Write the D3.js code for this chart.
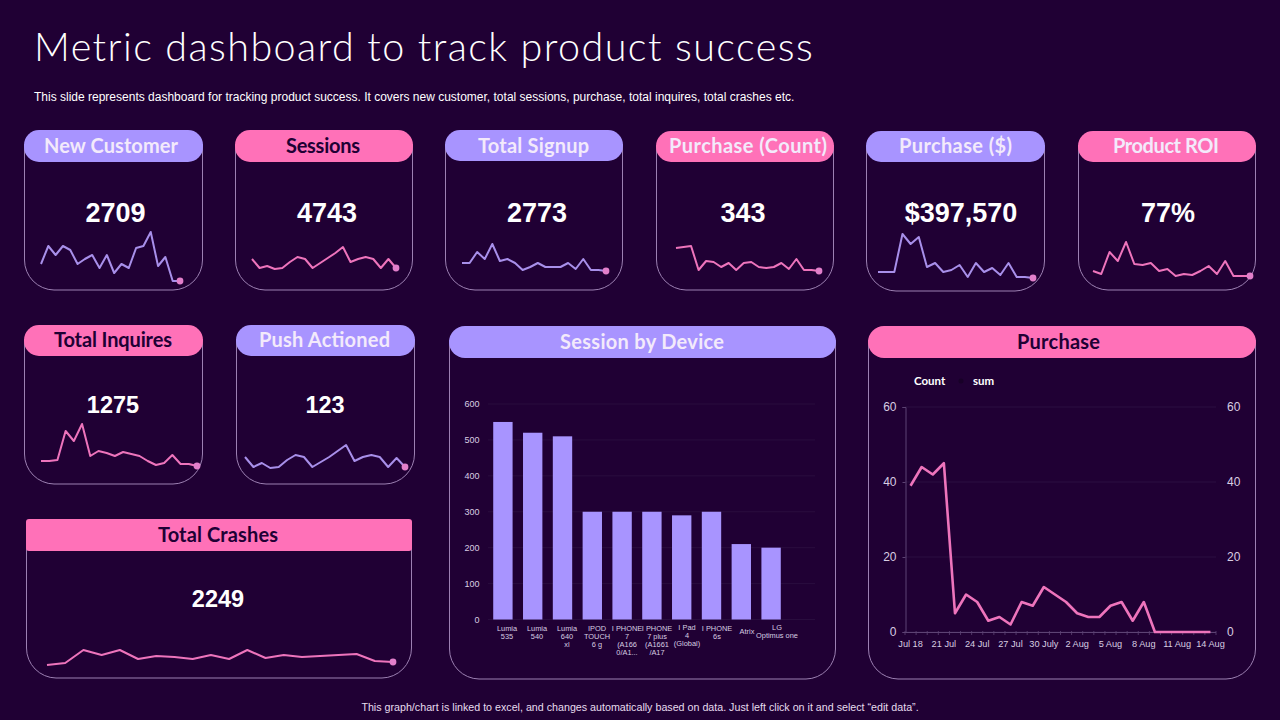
<!DOCTYPE html>
<html>
<head>
<meta charset="utf-8">
<script src="https://cdn.jsdelivr.net/npm/d3@7"></script>
<style>
  html, body { margin: 0; padding: 0; background: #200034; }
  svg { display: block; }
  text { font-family: "Liberation Sans", Arial, sans-serif; }
  .head { font-family: Lato, sans-serif; font-weight: 700; }
</style>
</head>
<body>
<div id="chart"></div>
<script>
// values
var newCustomer = [26,44,35,44,40,26,31,35,22,35,17,26,22,42,44,58,24,33,9,9];
var sessions = [31,22,24,21,22,28,33,31,22,27,32,37,43,28,31,33,31,22,31,22];
var totalSignup = [27,27,38,31,46,29,31,27,20,23,27,23,23,23,27,21,31,20,20,19];
var purchaseCount = [42,43,44,20,29,28,23,27,20,27,28,23,22,23,27,21,31,20,20,19];
var purchaseDollar = [19,19,19,57,47,54,24,28,19,21,26,14,28,19,23,16,28,14,14,13];
var productRoi = [19,16,38,29,48,26,25,27,19,21,14,16,15,19,24,16,29,14,14,14];
var totalInquires = [23,23,24,53,43,60,28,33,31,28,32,30,28,23,19,21,29,20,20,18];
var pushActioned = [27,17,21,16,17,24,29,27,17,22,27,33,39,23,27,29,27,17,26,17];
var totalCrashes = [13,15,28,23,28,19,22,21,19,23,19,28,20,23,21,22,23,24,17,16];

var deviceLabels = [
  ["Lumia","535"],["Lumia","540"],["Lumia","640","xl"],["IPOD","TOUCH","6 g"],
  ["I PHONE","7","(A166","0/A1..."],["I PHONE","7 plus","(A1661","/A17"],
  ["I Pad","4","(Global)"],["I PHONE","6s"],["Atrix"],["LG","Optimus one"]
];
var deviceValues = [550,520,510,300,300,300,290,300,210,200];
var deviceTicks = [0,100,200,300,400,500,600];

var purchaseDays = ["Jul 18","19","20","21 Jul","22","23","24 Jul","25","26","27 Jul","28","29","30 July","31","1",
  "2 Aug","3","4","5 Aug","6","7","8 Aug","9","10","11 Aug","12","13","14 Aug"];
var purchaseValues = [39,44,42,45,5,10,8,3,4,2,8,7,12,10,8,5,4,4,7,8,3,8,0,0,0,0,0,0];
var purchaseTicks = [0,20,40,60];

var bg = "#200034", lav = "#A894FF", pink = "#FF71B8", lineLav = "#A88FEA", linePink = "#EE74BC";
var dotColor = "#E27FCB", borderColor = "#9C80B2", axisText = "#D8CEE2", light = "#F3EAFB";

var svg = d3.select("#chart").append("svg").attr("width", 1280).attr("height", 720);
svg.append("rect").attr("width", 1280).attr("height", 720).attr("fill", bg);

svg.append("text").attr("x", 34).attr("y", 61).attr("fill", "#fff")
  .style("font-family", "Lato, sans-serif").style("font-weight", 300)
  .style("font-size", "39.5px").style("letter-spacing", "1.42px")
  .text("Metric dashboard to track product success");
svg.append("text").attr("x", 34).attr("y", 101).attr("fill", "#fff")
  .style("font-size", "12px")
  .text("This slide represents dashboard for tracking product success. It covers new customer, total sessions, purchase, total inquires, total crashes etc.");
svg.append("text").attr("x", 640).attr("y", 711).attr("fill", "#E6DCEE").attr("text-anchor", "middle")
  .style("font-size", "10.7px")
  .text("This graph/chart is linked to excel, and changes automatically based on data. Just left click on it and select \u201Cedit data\u201D.");

// card frame with its header pill
function drawFrame(c) {
  var g = svg.append("g");
  var r = 30, top = c.y0 + 14;
  g.append("path")
    .attr("d", "M" + (c.x0 + 0.5) + "," + top + "V" + (c.y1 - r) +
      "A" + r + "," + r + " 0 0 0 " + (c.x0 + r) + "," + c.y1 +
      "H" + (c.x1 - r) + "A" + r + "," + r + " 0 0 0 " + (c.x1 - 0.5) + "," + (c.y1 - r) + "V" + top)
    .attr("fill", "none").attr("stroke", borderColor).attr("stroke-width", 1);
  g.append("rect").attr("x", c.x0).attr("y", c.y0).attr("width", c.x1 - c.x0).attr("height", c.h)
    .attr("rx", c.rx).attr("fill", c.fill);
  g.append("text").attr("class", "head").attr("x", c.tx).attr("y", c.ty)
    .attr("textLength", c.tw).attr("lengthAdjust", "spacing")
    .attr("fill", c.ink).style("font-size", "20px").text(c.title);
}

function drawSpark(c) {
  drawFrame(c);
  svg.append("text").attr("x", c.nx).attr("y", c.ny).attr("text-anchor", "middle")
    .attr("fill", "#fff").style("font-weight", 700).style("font-size", c.ns + "px").text(c.number);
  var x = d3.scaleLinear().domain([0, c.data.length - 1]).range([c.sx0, c.sx1]);
  var y = d3.scaleLinear().domain([0, 60]).range([c.y1, c.y1 - 60]);
  var line = d3.line().x(function(d, i) { return x(i); }).y(function(d) { return y(d); });
  svg.append("path").datum(c.data).attr("d", line).attr("fill", "none")
    .attr("stroke", c.stroke).attr("stroke-width", 2).attr("stroke-linejoin", "round");
  svg.append("circle").attr("cx", x(c.data.length - 1)).attr("cy", y(c.data[c.data.length - 1]))
    .attr("r", 3.4).attr("fill", dotColor);
}

var sparks = [
  {title:"New Customer", number:"2709", data:newCustomer, x0:24, x1:203, y0:130, y1:290, h:32, fill:lav, ink:light, stroke:lineLav, tx:44, ty:153, tw:134, nx:115.5, ny:221.5, ns:27, sx0:41, sx1:180},
  {title:"Sessions", number:"4743", data:sessions, x0:235, x1:413, y0:130, y1:290, h:32, fill:pink, ink:bg, stroke:linePink, tx:286, ty:153, tw:74, nx:327, ny:221.5, ns:27, sx0:252, sx1:396},
  {title:"Total Signup", number:"2773", data:totalSignup, x0:445, x1:623, y0:130, y1:290, h:31, fill:lav, ink:light, stroke:lineLav, tx:478, ty:153, tw:111, nx:537, ny:221.5, ns:27, sx0:462, sx1:606},
  {title:"Purchase (Count)", number:"343", data:purchaseCount, x0:656, x1:834, y0:131, y1:290, h:31, fill:pink, ink:light, stroke:linePink, tx:669, ty:153, tw:158, nx:743, ny:221.5, ns:27, sx0:676, sx1:819},
  {title:"Purchase ($)", number:"$397,570", data:purchaseDollar, x0:866, x1:1045, y0:131, y1:291, h:31, fill:lav, ink:light, stroke:lineLav, tx:899, ty:153, tw:113, nx:961, ny:221.5, ns:27, sx0:878, sx1:1033},
  {title:"Product ROI", number:"77%", data:productRoi, x0:1078, x1:1256, y0:131, y1:290, h:31, fill:pink, ink:light, stroke:linePink, tx:1113, ty:153, tw:106, nx:1168, ny:221.5, ns:27, sx0:1093, sx1:1250},
  {title:"Total Inquires", number:"1275", data:totalInquires, x0:24, x1:203, y0:325, y1:484, h:31, fill:pink, ink:bg, stroke:linePink, tx:54, ty:346.5, tw:118, nx:113, ny:413, ns:23.5, sx0:41, sx1:197},
  {title:"Push Actioned", number:"123", data:pushActioned, x0:236, x1:415, y0:325, y1:484, h:31, fill:lav, ink:light, stroke:lineLav, tx:259, ty:346.5, tw:131, nx:325, ny:413, ns:23.5, sx0:245, sx1:405},
  {title:"Total Crashes", number:"2249", data:totalCrashes, x0:26, x1:412, y0:519, y1:678, h:32, rx:3, fill:pink, ink:bg, stroke:linePink, tx:158, ty:542, tw:120, nx:218, ny:607, ns:23.5, sx0:47, sx1:393}
];
sparks.forEach(function(c) {
  if (c.rx === undefined) c.rx = 15;
  drawSpark(c);
});

// Session by Device
drawFrame({title:"Session by Device", x0:449, x1:836, y0:326, y1:679, h:32, rx:16, fill:lav, ink:light, tx:560, ty:348.5, tw:164});

var bx = d3.scaleBand().domain(d3.range(deviceValues.length)).range([488, 786]).paddingInner(0.35).paddingOuter(0.175);
var by = d3.scaleLinear().domain([0, 600]).range([619.5, 404]);
// the category labels run on a slightly wider pitch than the bars
var labelX = d3.scalePoint().domain(d3.range(deviceLabels.length)).range([507, 777]);

svg.append("g").selectAll("line").data(deviceTicks).enter().append("line")
  .attr("x1", 488).attr("x2", 815)
  .attr("y1", function(d) { return by(d); }).attr("y2", function(d) { return by(d); })
  .attr("stroke", "#2e1243").attr("stroke-width", 0.7);

var byAxis = svg.append("g").attr("transform", "translate(485,0)")
  .call(d3.axisLeft(by).tickValues(deviceTicks).tickSize(0).tickPadding(5.5));
byAxis.select(".domain").remove();
byAxis.selectAll("text").attr("fill", axisText).style("font-size", "9px").style("font-family", "Liberation Sans");

svg.append("g").selectAll("rect").data(deviceValues).enter().append("rect")
  .attr("x", function(d, i) { return bx(i); })
  .attr("y", function(d) { return by(d); })
  .attr("width", bx.bandwidth())
  .attr("height", function(d) { return by(0) - by(d); })
  .attr("fill", lav);

var devLabel = svg.append("g").selectAll("text").data(deviceLabels).enter().append("text")
  .attr("text-anchor", "middle").attr("fill", axisText).style("font-size", "7.4px");
devLabel.each(function(lines, i) {
  var start = lines.length == 1 ? 634 : (lines[0] == "I Pad" || lines[0] == "LG" ? 629.5 : 630.5);
  d3.select(this).selectAll("tspan").data(lines).enter().append("tspan")
    .attr("x", labelX(i))
    .attr("y", function(d, j) { return start + j * 8; })
    .text(function(d) { return d; });
});

// Purchase
drawFrame({title:"Purchase", x0:868, x1:1256, y0:326, y1:679, h:32, rx:16, fill:pink, ink:bg, tx:1017, ty:348.5, tw:83});

var lx = d3.scaleBand().domain(purchaseDays).range([905, 1216]);
var ly = d3.scaleLinear().domain([0, 60]).range([632, 407]);

svg.append("g").selectAll("line").data(purchaseTicks).enter().append("line")
  .attr("x1", 905).attr("x2", 1216)
  .attr("y1", function(d) { return ly(d); }).attr("y2", function(d) { return ly(d); })
  .attr("stroke", "#321549").attr("stroke-width", 0.7);

var lyLeft = svg.append("g").attr("transform", "translate(905.5,0)")
  .call(d3.axisLeft(ly).tickValues(purchaseTicks).tickSize(3).tickPadding(6));
lyLeft.select(".domain").attr("stroke", "#5d4374");
lyLeft.selectAll("line").attr("stroke", "#5d4374");
lyLeft.selectAll("text").attr("fill", axisText).style("font-size", "12px").style("font-family", "Liberation Sans");

var lyRight = svg.append("g").attr("transform", "translate(1221,0)")
  .call(d3.axisRight(ly).tickValues(purchaseTicks).tickSize(0).tickPadding(6));
lyRight.select(".domain").remove();
lyRight.selectAll("text").attr("fill", axisText).style("font-size", "12px").style("font-family", "Liberation Sans");

// x axis: tick marks sit on the day boundaries, labels every third day
var dayEdges = purchaseDays.map(function(d) { return lx(d); }).concat([1216]);
svg.append("line").attr("x1", 905).attr("x2", 1216).attr("y1", ly(0) + 0.5).attr("y2", ly(0) + 0.5).attr("stroke", "#5d4374");
svg.append("g").selectAll("line").data(dayEdges).enter().append("line")
  .attr("x1", function(d) { return d; }).attr("x2", function(d) { return d; })
  .attr("y1", ly(0) - 1).attr("y2", ly(0) + 3).attr("stroke", "#5d4374").attr("stroke-width", 0.8);
svg.append("g").selectAll("text")
  .data(purchaseDays.filter(function(d, i) { return i % 3 == 0; })).enter().append("text")
  .attr("x", function(d) { return lx(d) + lx.bandwidth() / 2; })
  .attr("y", 646.5).attr("text-anchor", "middle").attr("fill", axisText)
  .style("font-size", "9.2px").text(function(d) { return d; });

var purchaseLine = d3.line()
  .x(function(d, i) { return lx(purchaseDays[i]) + lx.bandwidth() / 2; })
  .y(function(d) { return ly(d); });
svg.append("path").datum(purchaseValues).attr("d", purchaseLine).attr("fill", "none")
  .attr("stroke", linePink).attr("stroke-width", 2.6).attr("stroke-linejoin", "round");

// legend, the second marker is nearly the colour of the background
svg.append("text").attr("class", "head").attr("x", 914).attr("y", 385).attr("fill", "#fff").style("font-size", "11.5px").text("Count");
svg.append("circle").attr("cx", 961).attr("cy", 381).attr("r", 2.5).attr("fill", "#180028");
svg.append("text").attr("class", "head").attr("x", 973).attr("y", 385).attr("fill", "#fff").style("font-size", "11.5px").text("sum");
</script>
</body>
</html>
